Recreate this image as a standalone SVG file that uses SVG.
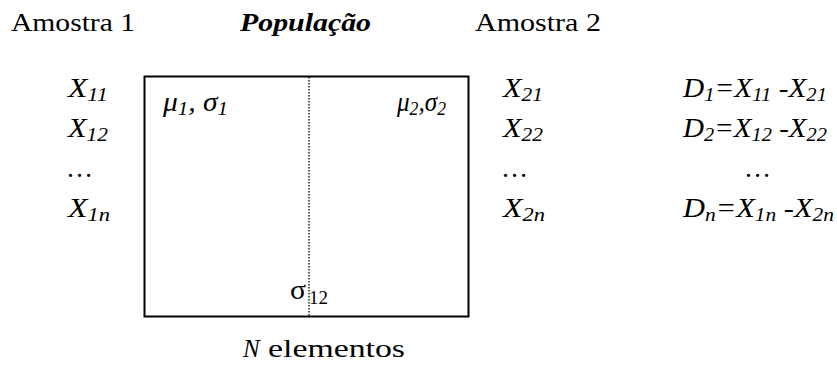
<svg xmlns="http://www.w3.org/2000/svg" width="837" height="371" viewBox="0 0 837 371">
<style>
text{font-family:"Liberation Serif","DejaVu Serif",serif;font-size:25px;fill:#000}
.i{font-style:italic;font-size:27px}
.s{font-size:19px}
</style>
<rect width="837" height="371" fill="#fff"/>
<text x="11" y="31" textLength="124" lengthAdjust="spacingAndGlyphs">Amostra 1</text>
<text x="240" y="31" font-style="italic" font-weight="bold" textLength="131" lengthAdjust="spacingAndGlyphs">População</text>
<text x="475" y="31" textLength="126" lengthAdjust="spacingAndGlyphs">Amostra 2</text>
<g id="population">
<rect x="144.5" y="76.5" width="324" height="240" fill="none" stroke="#000" stroke-width="2"/>
<line x1="309" y1="77" x2="309" y2="316" stroke="#000" stroke-width="1.3" stroke-dasharray="1.5,1.5"/>
<text x="163" y="111" class="i" textLength="65" lengthAdjust="spacingAndGlyphs">μ<tspan class="s" dy="4">1</tspan><tspan dy="-4">, σ</tspan><tspan class="s" dy="4">1</tspan></text>
<text x="397" y="111" class="i" textLength="49" lengthAdjust="spacingAndGlyphs">μ<tspan class="s" dy="4">2</tspan><tspan dy="-4">,σ</tspan><tspan class="s" dy="4">2</tspan></text>
<text x="290" y="299" style="font-size:28px" textLength="16" lengthAdjust="spacingAndGlyphs">σ</text>
<text x="309" y="304" style="font-size:19px">12</text>
</g>
<g id="amostra1">
<text x="68" y="97" class="i" textLength="40" lengthAdjust="spacingAndGlyphs">X<tspan class="s" dy="4">11</tspan></text>
<text x="68" y="137" class="i" textLength="40" lengthAdjust="spacingAndGlyphs">X<tspan class="s" dy="4">12</tspan></text>
<text x="68" y="177" class="i">…</text>
<text x="68" y="217" class="i" textLength="42" lengthAdjust="spacingAndGlyphs">X<tspan class="s" dy="4">1n</tspan></text>
</g>
<g id="amostra2">
<text x="503" y="97" class="i" textLength="40" lengthAdjust="spacingAndGlyphs">X<tspan class="s" dy="4">21</tspan></text>
<text x="503" y="137" class="i" textLength="40" lengthAdjust="spacingAndGlyphs">X<tspan class="s" dy="4">22</tspan></text>
<text x="503" y="177" class="i">…</text>
<text x="503" y="217" class="i" textLength="42" lengthAdjust="spacingAndGlyphs">X<tspan class="s" dy="4">2n</tspan></text>
</g>
<g id="diffs">
<text x="683" y="97" class="i" textLength="144" lengthAdjust="spacingAndGlyphs">D<tspan class="s" dy="4">1</tspan><tspan dy="-4">=X</tspan><tspan class="s" dy="4">11</tspan><tspan dy="-4"> -X</tspan><tspan class="s" dy="4">21</tspan></text>
<text x="683" y="137" class="i" textLength="144" lengthAdjust="spacingAndGlyphs">D<tspan class="s" dy="4">2</tspan><tspan dy="-4">=X</tspan><tspan class="s" dy="4">12</tspan><tspan dy="-4"> -X</tspan><tspan class="s" dy="4">22</tspan></text>
<text x="746" y="177" class="i">…</text>
<text x="683" y="217" class="i" textLength="151" lengthAdjust="spacingAndGlyphs">D<tspan class="s" dy="4">n</tspan><tspan dy="-4">=X</tspan><tspan class="s" dy="4">1n</tspan><tspan dy="-4"> -X</tspan><tspan class="s" dy="4">2n</tspan></text>
</g>
<text y="357"><tspan x="243" font-style="italic">N</tspan><tspan x="268" textLength="137" lengthAdjust="spacingAndGlyphs">elementos</tspan></text>
</svg>
